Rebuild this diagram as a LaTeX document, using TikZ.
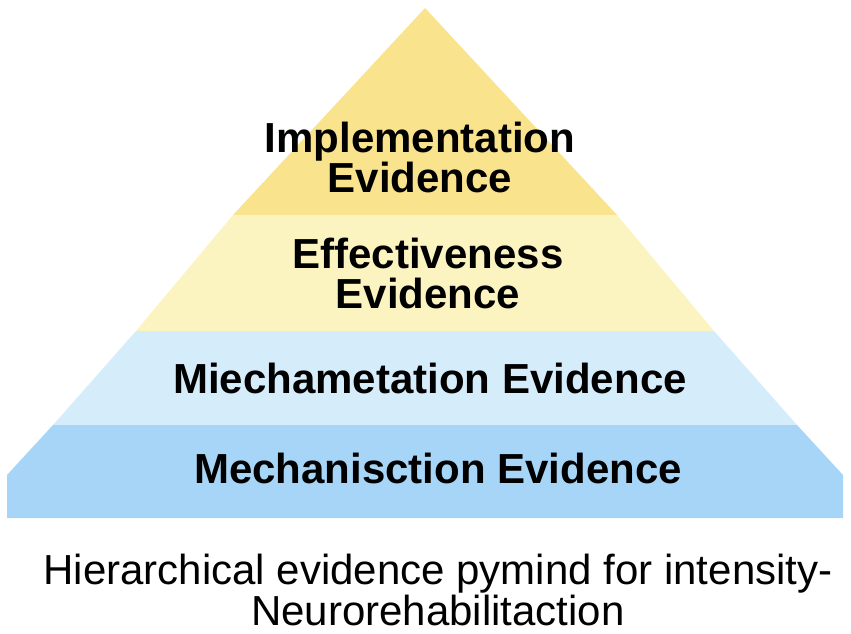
\documentclass[tikz,border=0pt]{standalone}
\usepackage{fontspec}
\setmainfont{Liberation Sans}
\begin{document}
\begin{tikzpicture}[x=1pt,y=-1pt,
  lbl/.style={font=\fontsize{42}{40}\selectfont\bfseries,align=center,inner sep=0pt},
  captext/.style={font=\fontsize{42}{36}\selectfont,align=center,inner sep=0pt}]
\definecolor{c1}{HTML}{F9E38C}
\definecolor{c2}{HTML}{FBF3C0}
\definecolor{c3}{HTML}{D5ECFB}
\definecolor{c4}{HTML}{A6D5F7}
\useasboundingbox (0,0) rectangle (851,634);
\fill[c1] (425,8) -- (617,215) -- (233,215) -- cycle;
\fill[c2] (233,215) -- (617,215) -- (714,331) -- (136,331) -- cycle;
\fill[c3] (136,331) -- (714,331) -- (797,425) -- (53,425) -- cycle;
\fill[c4] (53,425) -- (797,425) -- (843,475) -- (843,518) -- (7,518) -- (7,475) -- cycle;
\node[lbl] (t1) at (420,157) {Implementation\\Evidence};
\node[lbl] (t2) at (428,273) {Effectiveness\\Evidence};
\node[lbl] (t3) at (430,378) {Miechametation Evidence};
\node[lbl] (t4) at (438,468) {Mechanisction Evidence};
\node[captext] (c) at (438,590) {Hierarchical evidence pymind for intensity-\\Neurorehabilitaction};
\end{tikzpicture}
\end{document}
